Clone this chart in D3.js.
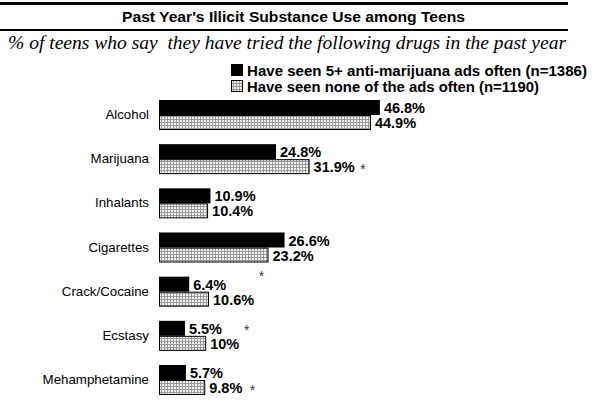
<!DOCTYPE html>
<html><head><meta charset="utf-8">
<script src="https://cdn.jsdelivr.net/npm/d3@7"></script>
<style>body{margin:0;background:#fff}svg{display:block}</style>
</head><body>
<script>
const categories = ["Alcohol","Marijuana","Inhalants","Cigarettes","Crack/Cocaine","Ecstasy","Mehamphetamine"];
const seenAds = [46.8,24.8,10.9,26.6,6.4,5.5,5.7];
const seenNone = [44.9,31.9,10.4,23.2,10.6,10,9.8];
const labelsSeen = ["46.8%","24.8%","10.9%","26.6%","6.4%","5.5%","5.7%"];
const labelsNone = ["44.9%","31.9%","10.4%","23.2%","10.6%","10%","9.8%"];
const seriesNames = ["Have seen 5+ anti-marijuana ads often (n=1386)","Have seen none of the ads often (n=1190)"];
// significance markers: category, bar (0 = seen, 1 = none, 2 = below pair), position in value units
const starCats = ["Marijuana","Cigarettes","Ecstasy","Mehamphetamine"];
const starBar = [1,2,0,1];
const starAt = [43.2,21.7,18.6,19.8];
const title = "Past Year's Illicit Substance Use among Teens";
const subtitle = "% of teens who say  they have tried the following drugs in the past year";

const W=594,H=401;
const svg=d3.select("body").append("svg").attr("width",W).attr("height",H);
const defs=svg.append("defs");
const pat=defs.append("pattern").attr("id","grid").attr("patternUnits","userSpaceOnUse").attr("width",3).attr("height",3);
pat.append("rect").attr("width",3).attr("height",3).attr("fill","#9a9a9a");
pat.append("rect").attr("width",2).attr("height",2).attr("fill","#f2f2f2");

const sans="Liberation Sans, Arial, sans-serif";
// rules and title
svg.append("rect").attr("x",0).attr("y",2).attr("width",568).attr("height",3).attr("fill","#000");
svg.append("rect").attr("x",0).attr("y",29).attr("width",568).attr("height",2).attr("fill","#000");
svg.append("text").attr("x",122).attr("y",22)
  .attr("font-family",sans).attr("font-weight","bold").attr("font-size",15)
  .attr("textLength",343).attr("lengthAdjust","spacingAndGlyphs").text(title);
svg.append("text").attr("x",8).attr("y",49).style("white-space","pre")
  .attr("font-family","Liberation Serif, Times New Roman, serif").attr("font-style","italic").attr("font-size",18)
  .attr("textLength",558).attr("lengthAdjust","spacingAndGlyphs").text(subtitle);

// legend
const lg=svg.append("g").attr("font-family",sans).attr("font-weight","bold").attr("font-size",14.5);
const legLen=[340,292];
seriesNames.forEach((n,i)=>{
  const y=64+i*16;
  lg.append("rect").attr("x",231.5).attr("y",y+0.5).attr("width",11).attr("height",11)
    .attr("fill",i===0?"#000":"url(#grid)").attr("stroke","#000");
  lg.append("text").attr("x",247).attr("y",y+11.5)
    .attr("textLength",legLen[i]).attr("lengthAdjust","spacingAndGlyphs").text(n);
});

const x=d3.scaleLinear().domain([0,50]).range([159,159+50*4.72]);
const y=d3.scalePoint().domain(categories).range([115,380]);
const bh=15;
const rows=svg.append("g");
categories.forEach((c,i)=>{
  const cy=y(c);
  const g=rows.append("g");
  g.append("rect").attr("x",x(0)).attr("y",cy-bh).attr("width",x(seenAds[i])-x(0)).attr("height",bh).attr("fill","#000");
  g.append("rect").attr("x",x(0)+0.5).attr("y",cy+0.5).attr("width",x(seenNone[i])-x(0)-1).attr("height",bh-1)
    .attr("fill","url(#grid)").attr("stroke","#000");
  g.append("text").attr("x",149).attr("y",cy+4).attr("text-anchor","end")
    .attr("font-family",sans).attr("font-size",13.3).text(c);
  g.append("text").attr("x",x(seenAds[i])+4).attr("y",cy-2).attr("font-family",sans)
    .attr("font-weight","bold").attr("font-size",14.5).text(labelsSeen[i]);
  g.append("text").attr("x",x(seenNone[i])+4).attr("y",cy+13).attr("font-family",sans)
    .attr("font-weight","bold").attr("font-size",14.5).text(labelsNone[i]);
});
starCats.forEach((c,k)=>{
  const cy=y(c);
  const yy = starBar[k]===0 ? cy-bh/2 : starBar[k]===1 ? cy+bh/2 : cy+bh+11;
  svg.append("text").attr("x",x(starAt[k])).attr("y",yy+7).attr("text-anchor","middle")
    .attr("font-family",sans).attr("font-size",14).attr("fill","#333").text("*");
});
</script>
</body></html>
